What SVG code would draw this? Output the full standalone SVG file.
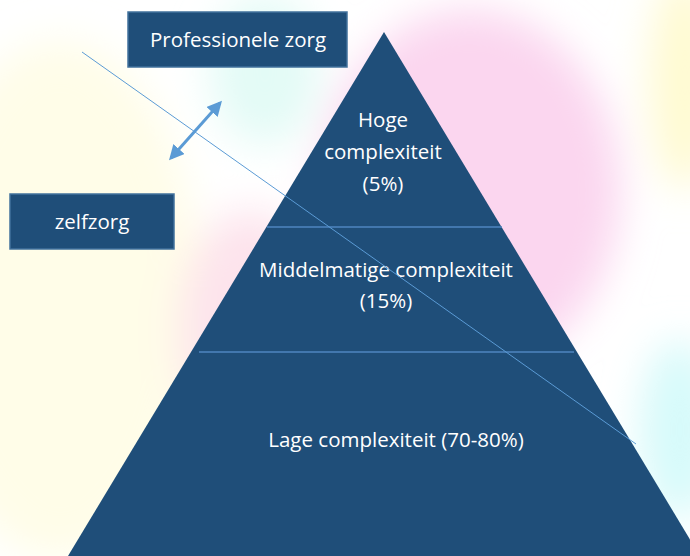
<svg xmlns="http://www.w3.org/2000/svg" width="690" height="556" viewBox="0 0 690 556">
<defs>
<filter id="blur" x="-50%" y="-50%" width="200%" height="200%"><feGaussianBlur stdDeviation="20"/></filter>
<marker id="ah" viewBox="0 0 10 10" refX="8" refY="5" markerWidth="5" markerHeight="5" orient="auto-start-reverse"><path d="M0,0 L10,5 L0,10 z" fill="#5B9BD5"/></marker>
<style>
.box{fill:#1F4E79;stroke:#41719C;stroke-width:1.5}
.t{font-family:"Open Sans","Liberation Sans",sans-serif;font-size:20.5px;fill:#FFFFFF;text-anchor:middle}
.div{stroke:#4F86C0;stroke-width:1.5}
</style>
</defs>
<rect width="690" height="556" fill="#FFFFFF"/>
<g id="background" filter="url(#blur)">
<ellipse cx="60" cy="300" rx="140" ry="260" fill="#FFFDE8"/>
<ellipse cx="265" cy="70" rx="55" ry="75" fill="#E3FBF6"/>
<ellipse cx="470" cy="190" rx="150" ry="180" fill="#FBD6EF"/>
<ellipse cx="250" cy="330" rx="70" ry="120" fill="#FDE3EC"/>
<ellipse cx="685" cy="80" rx="35" ry="110" fill="#FFFAD0"/>
<ellipse cx="680" cy="430" rx="40" ry="90" fill="#D6FAFA"/>
</g>
<g id="pyramid">
<polygon points="384,32 700,556 68,556" fill="#1F4E79"/>
</g>
<g id="tier-high">
<text class="t" x="383" y="127">Hoge</text>
<text class="t" x="383" y="159">complexiteit</text>
<text class="t" x="383" y="191">(5%)</text>
</g>
<g id="tier-middle">
<text class="t" x="386" y="277">Middelmatige complexiteit</text>
<text class="t" x="386" y="308">(15%)</text>
</g>
<g id="tier-low">
<text class="t" x="396" y="447">Lage complexiteit (70-80%)</text>
</g>
<g id="professionele-zorg">
<rect class="box" x="128" y="12" width="219" height="55"/>
<text class="t" x="238" y="47">Professionele zorg</text>
</g>
<g id="zelfzorg">
<rect class="box" x="10" y="194" width="164" height="55"/>
<text class="t" x="92" y="229">zelfzorg</text>
</g>
<g id="connectors">
<line class="div" x1="267" y1="227" x2="502" y2="227"/>
<line class="div" x1="199" y1="352" x2="574" y2="352"/>
<line x1="82" y1="52" x2="636" y2="444" stroke="#5B9BD5" stroke-width="1"/>
<line x1="220" y1="103" x2="171" y2="158" stroke="#5B9BD5" stroke-width="3" marker-start="url(#ah)" marker-end="url(#ah)"/>
</g>
</svg>
